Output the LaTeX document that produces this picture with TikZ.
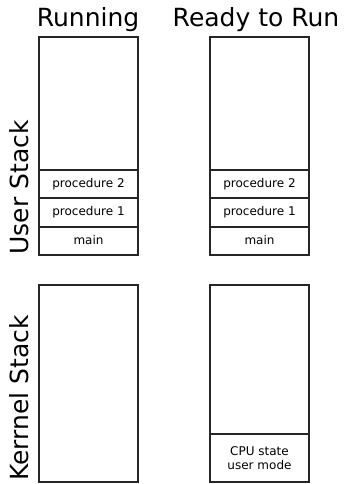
\documentclass[tikz,border=0pt]{standalone}
\usepackage{fontspec}
\setmainfont{DejaVu Sans}

\begin{document}
\begin{tikzpicture}[x=1pt,y=1pt,yscale=-1,
  stackbox/.style={draw=black!85,line width=1.4pt,rectangle,minimum width=99pt,inner sep=0pt},
  framebox/.style={stackbox,font=\fontsize{12}{14}\selectfont,text height=8.8pt,text depth=2.6pt},
  heading/.style={font=\fontsize{25}{29}\selectfont,inner sep=0pt}]
\useasboundingbox (0,0) rectangle (347,484);

%Shape: Rectangle (user stack, running)
\node [stackbox, minimum height=218] (run user) at (88.5,146) {};
%Shape: Rectangle (user stack, ready)
\node [stackbox, minimum height=218] (rdy user) at (259.5,146) {};
%Shape: Rectangle (kernel stack, running)
\node [stackbox, minimum height=197] (run kern) at (88.5,383.5) {};
%Shape: Rectangle (kernel stack, ready)
\node [stackbox, minimum height=197] (rdy kern) at (259.5,383.5) {};

% Frames
\node [framebox, minimum height=28] (run p2) at (88.5,184) {procedure 2};
\node [framebox, minimum height=29] (run p1) at (88.5,212.5) {procedure 1};
\node [framebox, minimum height=28] (run main) at (88.5,241) {main};
\node [framebox, minimum height=28] (rdy p2) at (259.5,184) {procedure 2};
\node [framebox, minimum height=29] (rdy p1) at (259.5,212.5) {procedure 1};
\node [framebox, minimum height=28] (rdy main) at (259.5,241) {main};
\node [stackbox, minimum height=48, font=\fontsize{12}{14.5}\selectfont, align=center] (rdy cpu) at (259.5,458) {CPU state\\user mode};

% Text Node
\node [heading, anchor=base] (run title) at (88,27) {Running};
% Text Node
\node [heading, anchor=base] (rdy title) at (256,27) {Ready to Run};
% Text Node
\node [heading, rotate=90, anchor=base] (user label) at (28,187.5) {User Stack};
% Text Node
\node [heading, rotate=90, anchor=base] (kern label) at (28,398) {Kerrnel Stack};
\end{tikzpicture}
\end{document}
